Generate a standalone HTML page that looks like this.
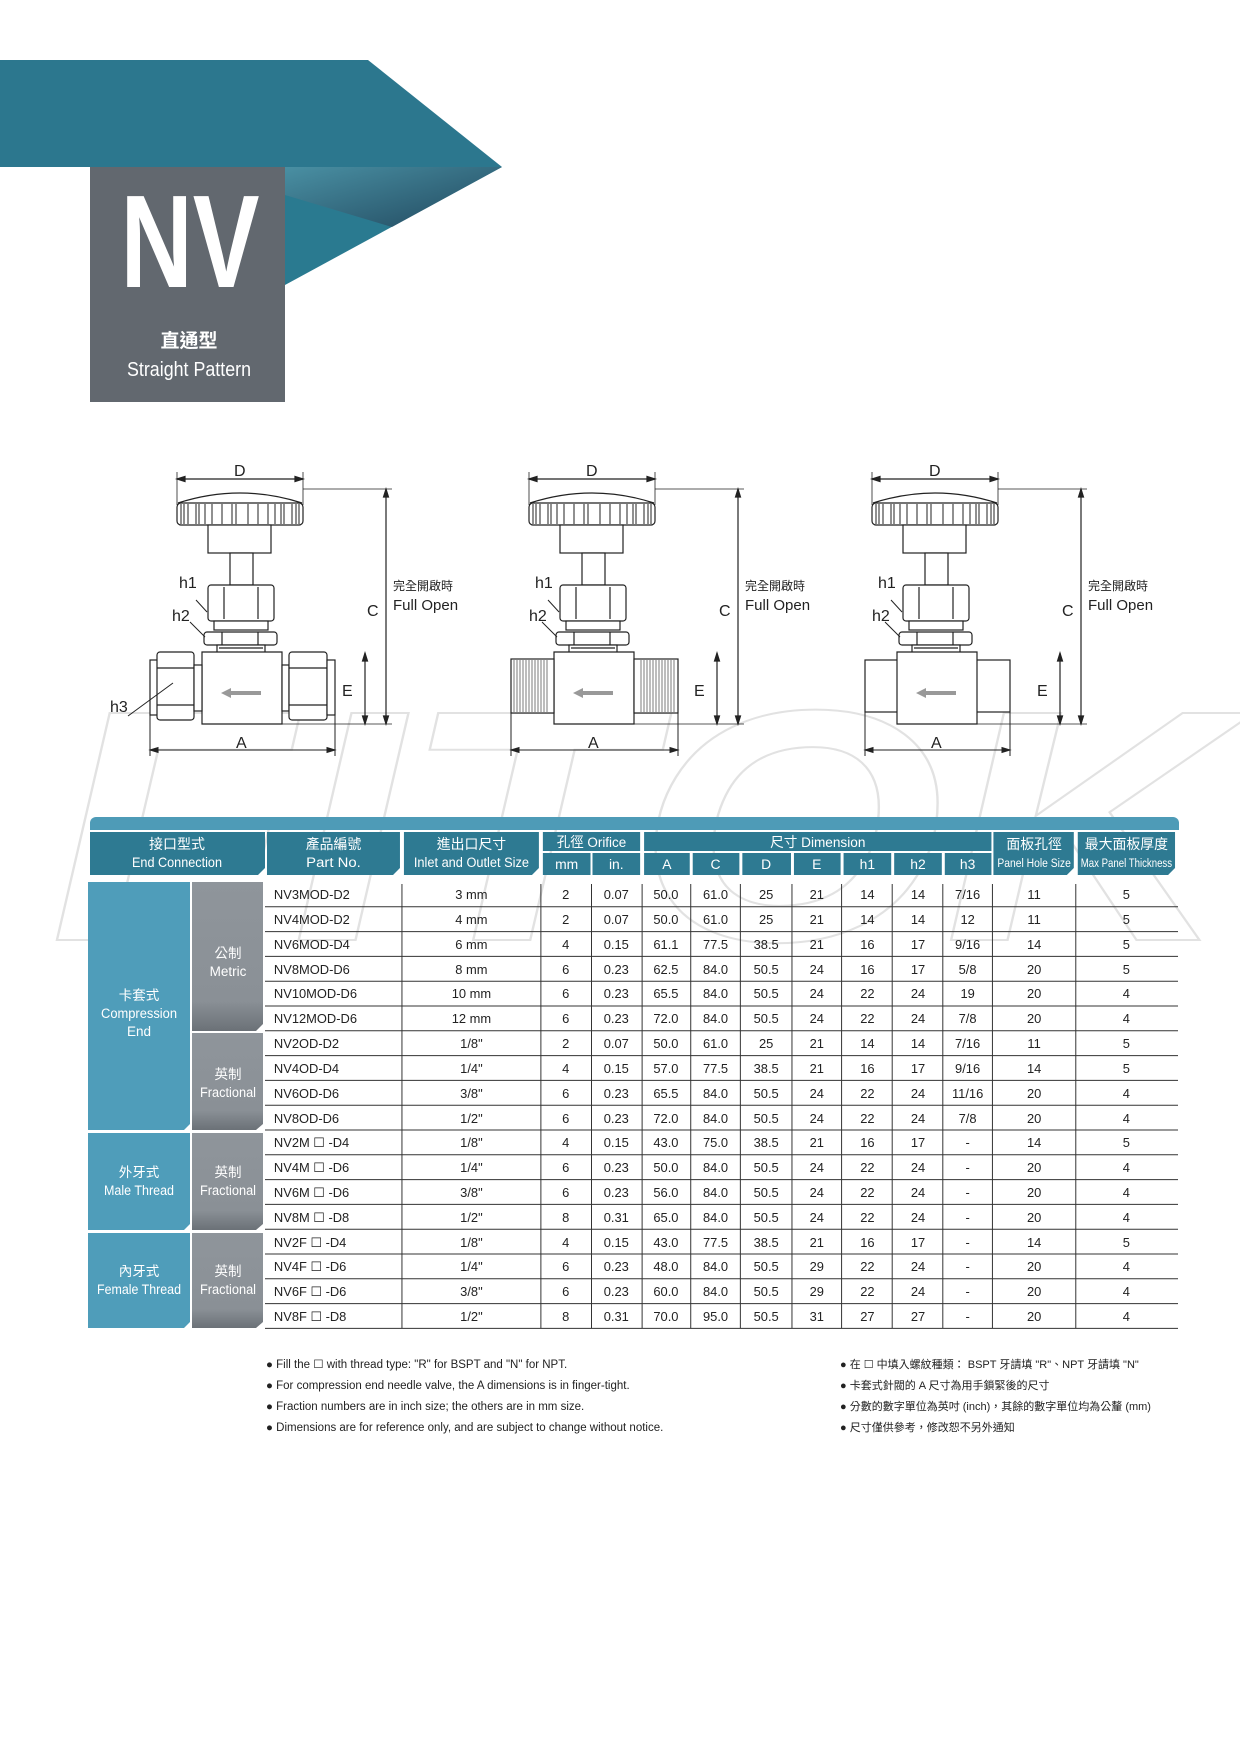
<!DOCTYPE html>
<html><head><meta charset="utf-8"><style>
html,body{margin:0;padding:0;background:#fff;}
svg{display:block;}
text{font-family:"Liberation Sans","Noto Sans CJK TC",sans-serif;}
</style></head><body>
<svg width="1240" height="1754" viewBox="0 0 1240 1754" xmlns="http://www.w3.org/2000/svg">
<defs>
<linearGradient id="fold" x1="0" y1="0" x2="1" y2="1">
<stop offset="0" stop-color="#4f93a6"/><stop offset="1" stop-color="#1f3f55"/></linearGradient>
<linearGradient id="gg" x1="0" y1="0" x2="0" y2="1">
<stop offset="0" stop-color="#8f959b"/><stop offset="0.8" stop-color="#8a9096"/><stop offset="1" stop-color="#6b7177"/></linearGradient>
<g id="valve" fill="none" stroke="#222" stroke-width="1.2">
<line x1="177" y1="479" x2="303" y2="479"/>
<line x1="177" y1="472" x2="177" y2="505" stroke-width="0.8"/>
<line x1="303" y1="472" x2="303" y2="505" stroke-width="0.8"/>
<path d="M177 479 l8 -2.5 v5z M303 479 l-8 -2.5 v5z" fill="#222"/>
<path d="M178 503 Q240 483 302 503" fill="#fff"/>
<rect x="177" y="503" width="126" height="22" rx="4" fill="#fff"/>
<g stroke-width="1">
<line x1="181" y1="504" x2="181" y2="524"/><line x1="184" y1="504" x2="184" y2="524"/>
<line x1="188" y1="504" x2="188" y2="524"/><line x1="196" y1="504" x2="196" y2="524"/>
<line x1="199" y1="504" x2="199" y2="524"/><line x1="205" y1="504" x2="205" y2="524"/>
<line x1="212" y1="504" x2="212" y2="524"/><line x1="222" y1="504" x2="222" y2="524"/>
<line x1="232" y1="504" x2="232" y2="524"/><line x1="236" y1="504" x2="236" y2="524"/>
<line x1="248" y1="504" x2="248" y2="524"/><line x1="258" y1="504" x2="258" y2="524"/>
<line x1="268" y1="504" x2="268" y2="524"/><line x1="275" y1="504" x2="275" y2="524"/>
<line x1="281" y1="504" x2="281" y2="524"/><line x1="284" y1="504" x2="284" y2="524"/>
<line x1="292" y1="504" x2="292" y2="524"/><line x1="296" y1="504" x2="296" y2="524"/>
<line x1="299" y1="504" x2="299" y2="524"/>
</g>
<rect x="208" y="525" width="63" height="28" fill="#fff"/>
<rect x="230" y="553" width="23" height="32" fill="#fff"/>
<rect x="208" y="585" width="66" height="36" rx="3" fill="#fff"/>
<line x1="224" y1="587" x2="224" y2="619"/><line x1="258" y1="587" x2="258" y2="619"/>
<rect x="214" y="621" width="54" height="9" fill="#fff"/>
<rect x="204" y="632" width="73" height="13" rx="3" fill="#fff"/>
<line x1="222" y1="632" x2="222" y2="645"/><line x1="258" y1="632" x2="258" y2="645"/>
<rect x="217" y="645" width="48" height="8" fill="#fff"/>
<line x1="219" y1="648" x2="263" y2="648"/>
<line x1="365" y1="653" x2="365" y2="724"/>
<path d="M365 653 l-2.5 8 h5z M365 724 l-2.5 -8 h5z" fill="#222"/>
<line x1="386" y1="489" x2="386" y2="724"/>
<path d="M386 489 l-2.5 8 h5z M386 724 l-2.5 -8 h5z" fill="#222"/>
<line x1="303" y1="489" x2="392" y2="489" stroke-width="0.8"/>
<line x1="282" y1="724" x2="392" y2="724" stroke-width="0.8"/>
</g>
<path id="arrow" d="M221 693 l10 -5 v3 h30 v4 h-30 v3z" fill="#999"/>
</defs>

<!-- watermark -->
<text x="50" y="940" font-size="330" font-style="italic" font-weight="bold" fill="none" stroke="#e2e2e2" stroke-width="2" textLength="1180" lengthAdjust="spacingAndGlyphs">FITOK</text>

<!-- banner -->
<polygon points="0,60 368,60 502,167 0,167" fill="#2c778e"/>
<polygon points="285,167 502,167 285,285" fill="#2a7a90"/>
<polygon points="285,167 502,167 392,227 285,195" fill="url(#fold)" opacity="0.85"/>
<rect x="90" y="167" width="195" height="235" fill="#62686f"/>
<text x="190" y="287" font-size="132" font-weight="bold" fill="#fff" text-anchor="middle" textLength="139" lengthAdjust="spacingAndGlyphs">NV</text>
<text x="189" y="347" font-size="19" fill="#fff" text-anchor="middle" font-weight="bold">直通型</text>
<text x="189" y="376" font-size="20" fill="#fff" text-anchor="middle" textLength="124" lengthAdjust="spacingAndGlyphs">Straight Pattern</text>

<!-- valve 1 compression -->
<g>
<use href="#valve"/>
<g fill="#fff" stroke="#222" stroke-width="1.2">
<path d="M202 652 h80 v72 h-80z"/>
<rect x="150" y="660" width="8" height="55"/>
<rect x="157" y="652" width="37" height="68" rx="3"/>
<line x1="157" y1="668" x2="194" y2="668"/><line x1="157" y1="705" x2="194" y2="705"/>
<rect x="194" y="665" width="8" height="46"/>
<rect x="282" y="665" width="7" height="46"/>
<rect x="289" y="652" width="38" height="68" rx="3"/>
<line x1="289" y1="668" x2="327" y2="668"/><line x1="289" y1="705" x2="327" y2="705"/>
<rect x="327" y="660" width="8" height="55"/>
</g>
<use href="#arrow"/>
<g stroke="#222" stroke-width="1" fill="none">
<line x1="150" y1="715" x2="150" y2="756"/><line x1="335" y1="715" x2="335" y2="756"/>
<line x1="150" y1="750" x2="335" y2="750"/>
<path d="M150 750 l8 -2.5 v5z M335 750 l-8 -2.5 v5z" fill="#222"/>
<path d="M196 600 l11 12"/><path d="M190 622 l15 15"/><path d="M128 716 l45 -33"/>
</g>
<g font-size="16" fill="#222">
<text x="234" y="476">D</text><text x="236" y="748">A</text><text x="342" y="696">E</text><text x="367" y="616">C</text>
<text x="179" y="588">h1</text><text x="172" y="621">h2</text><text x="110" y="712">h3</text></g>
<text x="393" y="590" font-size="12" fill="#222">完全開啟時</text>
<text x="393" y="610" font-size="15" fill="#222">Full Open</text>
</g>

<!-- valve 2 male -->
<g transform="translate(352,0)">
<use href="#valve"/>
<g fill="#fff" stroke="#222" stroke-width="1.2">
<path d="M202 652 h80 v72 h-80z"/>
<rect x="159" y="659" width="43" height="54"/>
<rect x="282" y="659" width="44" height="54"/>
</g>
<g stroke="#444" stroke-width="0.7">
<path d="M162 660 v52 M165 660 v52 M168 660 v52 M171 660 v52 M174 660 v52 M177 660 v52 M180 660 v52 M183 660 v52 M186 660 v52 M189 660 v52 M192 660 v52 M195 660 v52"/>
<path d="M289 660 v52 M292 660 v52 M295 660 v52 M298 660 v52 M301 660 v52 M304 660 v52 M307 660 v52 M310 660 v52 M313 660 v52 M316 660 v52 M319 660 v52 M322 660 v52"/>
</g>
<use href="#arrow"/>
<g stroke="#222" stroke-width="1" fill="none">
<line x1="159" y1="713" x2="159" y2="756"/><line x1="326" y1="713" x2="326" y2="756"/>
<line x1="159" y1="750" x2="326" y2="750"/>
<path d="M159 750 l8 -2.5 v5z M326 750 l-8 -2.5 v5z" fill="#222"/>
<path d="M196 600 l11 12"/><path d="M190 622 l15 15"/>
</g>
<g font-size="16" fill="#222">
<text x="234" y="476">D</text><text x="236" y="748">A</text><text x="342" y="696">E</text><text x="367" y="616">C</text>
<text x="183" y="588">h1</text><text x="177" y="621">h2</text></g>
<text x="393" y="590" font-size="12" fill="#222">完全開啟時</text>
<text x="393" y="610" font-size="15" fill="#222">Full Open</text>
</g>

<!-- valve 3 female -->
<g transform="translate(695,0)">
<use href="#valve"/>
<g fill="#fff" stroke="#222" stroke-width="1.2">
<rect x="170" y="660" width="145" height="52"/>
<path d="M202 652 h80 v72 h-80z"/>
</g>
<use href="#arrow"/>
<g stroke="#222" stroke-width="1" fill="none">
<line x1="170" y1="712" x2="170" y2="756"/><line x1="315" y1="712" x2="315" y2="756"/>
<line x1="170" y1="750" x2="315" y2="750"/>
<path d="M170 750 l8 -2.5 v5z M315 750 l-8 -2.5 v5z" fill="#222"/>
<path d="M196 600 l11 12"/><path d="M190 622 l15 15"/>
</g>
<g font-size="16" fill="#222">
<text x="234" y="476">D</text><text x="236" y="748">A</text><text x="342" y="696">E</text><text x="367" y="616">C</text>
<text x="183" y="588">h1</text><text x="177" y="621">h2</text></g>
<text x="393" y="590" font-size="12" fill="#222">完全開啟時</text>
<text x="393" y="610" font-size="15" fill="#222">Full Open</text>
</g>

<!-- TABLE -->
<path d="M90 823 a6 6 0 0 1 6 -6 h1077 a6 6 0 0 1 6 6 v7 h-1089z" fill="#4e9bb7"/>
<g fill="#2e7a92">
<path d="M90 832 h175 v36 l-7 7 h-168z"/>
</g>
<g transform="translate(265,0) scale(0.9924,1) translate(-265,0)">
<g fill="#2e7a92">
<path d="M267 832 h134 v36 l-7 7 h-127z"/>
<path d="M405 832 h136 v36 l-7 7 h-129z"/>
<rect x="545" y="832" width="98" height="19"/>
<rect x="545" y="853" width="48" height="22"/>
<rect x="595" y="853" width="48" height="22"/>
<rect x="647" y="832" width="350" height="19"/>
<rect x="647" y="853" width="46" height="22"/><rect x="696" y="853" width="47" height="22"/>
<rect x="746" y="853" width="49" height="22"/><rect x="798" y="853" width="47" height="22"/>
<rect x="848" y="853" width="48" height="22"/><rect x="899" y="853" width="48" height="22"/>
<rect x="950" y="853" width="47" height="22"/>
<path d="M999 832 h81 v36 l-7 7 h-74z"/>
<path d="M1084 832 h98 v36 l-7 7 h-91z"/>
</g>
<g fill="#fff" font-size="14" text-anchor="middle">
<text x="334" y="849">產品編號</text><text x="334" y="867" textLength="55" lengthAdjust="spacingAndGlyphs">Part No.</text>
<text x="473" y="849">進出口尺寸</text><text x="473" y="867" textLength="116" lengthAdjust="spacingAndGlyphs">Inlet and Outlet Size</text>
<text x="594" y="847" textLength="70" lengthAdjust="spacingAndGlyphs">孔徑 Orifice</text>
<text x="569" y="869">mm</text><text x="619" y="869">in.</text>
<text x="822" y="847" textLength="96" lengthAdjust="spacingAndGlyphs">尺寸 Dimension</text>
<text x="670" y="869">A</text><text x="719" y="869">C</text><text x="770" y="869">D</text><text x="821" y="869">E</text>
<text x="872" y="869">h1</text><text x="923" y="869">h2</text><text x="973" y="869">h3</text>
<text x="1040" y="849">面板孔徑</text><text x="1040" y="867" font-size="12" textLength="74" lengthAdjust="spacingAndGlyphs">Panel Hole Size</text>
<text x="1133" y="849">最大面板厚度</text><text x="1133" y="867" font-size="12" textLength="92" lengthAdjust="spacingAndGlyphs">Max Panel Thickness</text>
</g>

<g stroke="#333" stroke-width="1">
<line x1="265" y1="906.8" x2="1185" y2="906.8"/><line x1="265" y1="931.6" x2="1185" y2="931.6"/>
<line x1="265" y1="956.4" x2="1185" y2="956.4"/><line x1="265" y1="981.2" x2="1185" y2="981.2"/>
<line x1="265" y1="1006" x2="1185" y2="1006"/><line x1="265" y1="1030.8" x2="1185" y2="1030.8"/>
<line x1="265" y1="1055.6" x2="1185" y2="1055.6"/><line x1="265" y1="1080.4" x2="1185" y2="1080.4"/>
<line x1="265" y1="1105.2" x2="1185" y2="1105.2"/><line x1="265" y1="1130" x2="1185" y2="1130"/>
<line x1="265" y1="1154.8" x2="1185" y2="1154.8"/><line x1="265" y1="1179.6" x2="1185" y2="1179.6"/>
<line x1="265" y1="1204.4" x2="1185" y2="1204.4"/><line x1="265" y1="1229.2" x2="1185" y2="1229.2"/>
<line x1="265" y1="1254" x2="1185" y2="1254"/><line x1="265" y1="1278.8" x2="1185" y2="1278.8"/>
<line x1="265" y1="1303.6" x2="1185" y2="1303.6"/><line x1="265" y1="1328.4" x2="1185" y2="1328.4"/>
</g>
<g stroke="#333" stroke-width="1">
<line x1="403" y1="884" x2="403" y2="1328"/><line x1="543" y1="884" x2="543" y2="1328"/>
<line x1="594" y1="884" x2="594" y2="1328"/><line x1="645" y1="884" x2="645" y2="1328"/>
<line x1="694" y1="884" x2="694" y2="1328"/><line x1="744" y1="884" x2="744" y2="1328"/>
<line x1="796" y1="884" x2="796" y2="1328"/><line x1="846" y1="884" x2="846" y2="1328"/>
<line x1="897" y1="884" x2="897" y2="1328"/><line x1="948" y1="884" x2="948" y2="1328"/>
<line x1="998" y1="884" x2="998" y2="1328"/><line x1="1082" y1="884" x2="1082" y2="1328"/>
</g>

<g font-size="13" fill="#222">
<text x="274" y="899">NV3MOD-D2</text><text x="274" y="924">NV4MOD-D2</text><text x="274" y="949">NV6MOD-D4</text>
<text x="274" y="974">NV8MOD-D6</text><text x="274" y="998">NV10MOD-D6</text><text x="274" y="1023">NV12MOD-D6</text>
<text x="274" y="1048">NV2OD-D2</text><text x="274" y="1073">NV4OD-D4</text><text x="274" y="1098">NV6OD-D6</text>
<text x="274" y="1123">NV8OD-D6</text>
<text x="274" y="1147">NV2M ☐ -D4</text><text x="274" y="1172">NV4M ☐ -D6</text><text x="274" y="1197">NV6M ☐ -D6</text><text x="274" y="1222">NV8M ☐ -D8</text>
<text x="274" y="1247">NV2F ☐ -D4</text><text x="274" y="1271">NV4F ☐ -D6</text><text x="274" y="1296">NV6F ☐ -D6</text><text x="274" y="1321">NV8F ☐ -D8</text>
</g>
<g font-size="13" fill="#222" text-anchor="middle">
<text x="473" y="899">3 mm</text><text x="473" y="924">4 mm</text><text x="473" y="949">6 mm</text><text x="473" y="974">8 mm</text>
<text x="473" y="998">10 mm</text><text x="473" y="1023">12 mm</text><text x="473" y="1048">1/8"</text><text x="473" y="1073">1/4"</text>
<text x="473" y="1098">3/8"</text><text x="473" y="1123">1/2"</text><text x="473" y="1147">1/8"</text><text x="473" y="1172">1/4"</text>
<text x="473" y="1197">3/8"</text><text x="473" y="1222">1/2"</text><text x="473" y="1247">1/8"</text><text x="473" y="1271">1/4"</text>
<text x="473" y="1296">3/8"</text><text x="473" y="1321">1/2"</text>
<text x="568" y="899">2</text><text x="568" y="924">2</text><text x="568" y="949">4</text><text x="568" y="974">6</text>
<text x="568" y="998">6</text><text x="568" y="1023">6</text><text x="568" y="1048">2</text><text x="568" y="1073">4</text>
<text x="568" y="1098">6</text><text x="568" y="1123">6</text><text x="568" y="1147">4</text><text x="568" y="1172">6</text>
<text x="568" y="1197">6</text><text x="568" y="1222">8</text><text x="568" y="1247">4</text><text x="568" y="1271">6</text>
<text x="568" y="1296">6</text><text x="568" y="1321">8</text>
<text x="619" y="899">0.07</text><text x="619" y="924">0.07</text><text x="619" y="949">0.15</text><text x="619" y="974">0.23</text>
<text x="619" y="998">0.23</text><text x="619" y="1023">0.23</text><text x="619" y="1048">0.07</text><text x="619" y="1073">0.15</text>
<text x="619" y="1098">0.23</text><text x="619" y="1123">0.23</text><text x="619" y="1147">0.15</text><text x="619" y="1172">0.23</text>
<text x="619" y="1197">0.23</text><text x="619" y="1222">0.31</text><text x="619" y="1247">0.15</text><text x="619" y="1271">0.23</text>
<text x="619" y="1296">0.23</text><text x="619" y="1321">0.31</text>
<text x="669" y="899">50.0</text><text x="669" y="924">50.0</text><text x="669" y="949">61.1</text><text x="669" y="974">62.5</text>
<text x="669" y="998">65.5</text><text x="669" y="1023">72.0</text><text x="669" y="1048">50.0</text><text x="669" y="1073">57.0</text>
<text x="669" y="1098">65.5</text><text x="669" y="1123">72.0</text><text x="669" y="1147">43.0</text><text x="669" y="1172">50.0</text>
<text x="669" y="1197">56.0</text><text x="669" y="1222">65.0</text><text x="669" y="1247">43.0</text><text x="669" y="1271">48.0</text>
<text x="669" y="1296">60.0</text><text x="669" y="1321">70.0</text>
<text x="719" y="899">61.0</text><text x="719" y="924">61.0</text><text x="719" y="949">77.5</text><text x="719" y="974">84.0</text>
<text x="719" y="998">84.0</text><text x="719" y="1023">84.0</text><text x="719" y="1048">61.0</text><text x="719" y="1073">77.5</text>
<text x="719" y="1098">84.0</text><text x="719" y="1123">84.0</text><text x="719" y="1147">75.0</text><text x="719" y="1172">84.0</text>
<text x="719" y="1197">84.0</text><text x="719" y="1222">84.0</text><text x="719" y="1247">77.5</text><text x="719" y="1271">84.0</text>
<text x="719" y="1296">84.0</text><text x="719" y="1321">95.0</text>
<text x="770" y="899">25</text><text x="770" y="924">25</text><text x="770" y="949">38.5</text><text x="770" y="974">50.5</text>
<text x="770" y="998">50.5</text><text x="770" y="1023">50.5</text><text x="770" y="1048">25</text><text x="770" y="1073">38.5</text>
<text x="770" y="1098">50.5</text><text x="770" y="1123">50.5</text><text x="770" y="1147">38.5</text><text x="770" y="1172">50.5</text>
<text x="770" y="1197">50.5</text><text x="770" y="1222">50.5</text><text x="770" y="1247">38.5</text><text x="770" y="1271">50.5</text>
<text x="770" y="1296">50.5</text><text x="770" y="1321">50.5</text>
<text x="821" y="899">21</text><text x="821" y="924">21</text><text x="821" y="949">21</text><text x="821" y="974">24</text>
<text x="821" y="998">24</text><text x="821" y="1023">24</text><text x="821" y="1048">21</text><text x="821" y="1073">21</text>
<text x="821" y="1098">24</text><text x="821" y="1123">24</text><text x="821" y="1147">21</text><text x="821" y="1172">24</text>
<text x="821" y="1197">24</text><text x="821" y="1222">24</text><text x="821" y="1247">21</text><text x="821" y="1271">29</text>
<text x="821" y="1296">29</text><text x="821" y="1321">31</text>
<text x="872" y="899">14</text><text x="872" y="924">14</text><text x="872" y="949">16</text><text x="872" y="974">16</text>
<text x="872" y="998">22</text><text x="872" y="1023">22</text><text x="872" y="1048">14</text><text x="872" y="1073">16</text>
<text x="872" y="1098">22</text><text x="872" y="1123">22</text><text x="872" y="1147">16</text><text x="872" y="1172">22</text>
<text x="872" y="1197">22</text><text x="872" y="1222">22</text><text x="872" y="1247">16</text><text x="872" y="1271">22</text>
<text x="872" y="1296">22</text><text x="872" y="1321">27</text>
<text x="923" y="899">14</text><text x="923" y="924">14</text><text x="923" y="949">17</text><text x="923" y="974">17</text>
<text x="923" y="998">24</text><text x="923" y="1023">24</text><text x="923" y="1048">14</text><text x="923" y="1073">17</text>
<text x="923" y="1098">24</text><text x="923" y="1123">24</text><text x="923" y="1147">17</text><text x="923" y="1172">24</text>
<text x="923" y="1197">24</text><text x="923" y="1222">24</text><text x="923" y="1247">17</text><text x="923" y="1271">24</text>
<text x="923" y="1296">24</text><text x="923" y="1321">27</text>
<text x="973" y="899">7/16</text><text x="973" y="924">12</text><text x="973" y="949">9/16</text><text x="973" y="974">5/8</text>
<text x="973" y="998">19</text><text x="973" y="1023">7/8</text><text x="973" y="1048">7/16</text><text x="973" y="1073">9/16</text>
<text x="973" y="1098">11/16</text><text x="973" y="1123">7/8</text><text x="973" y="1147">-</text><text x="973" y="1172">-</text>
<text x="973" y="1197">-</text><text x="973" y="1222">-</text><text x="973" y="1247">-</text><text x="973" y="1271">-</text>
<text x="973" y="1296">-</text><text x="973" y="1321">-</text>
<text x="1040" y="899">11</text><text x="1040" y="924">11</text><text x="1040" y="949">14</text><text x="1040" y="974">20</text>
<text x="1040" y="998">20</text><text x="1040" y="1023">20</text><text x="1040" y="1048">11</text><text x="1040" y="1073">14</text>
<text x="1040" y="1098">20</text><text x="1040" y="1123">20</text><text x="1040" y="1147">14</text><text x="1040" y="1172">20</text>
<text x="1040" y="1197">20</text><text x="1040" y="1222">20</text><text x="1040" y="1247">14</text><text x="1040" y="1271">20</text>
<text x="1040" y="1296">20</text><text x="1040" y="1321">20</text>
<text x="1133" y="899">5</text><text x="1133" y="924">5</text><text x="1133" y="949">5</text><text x="1133" y="974">5</text>
<text x="1133" y="998">4</text><text x="1133" y="1023">4</text><text x="1133" y="1048">5</text><text x="1133" y="1073">5</text>
<text x="1133" y="1098">4</text><text x="1133" y="1123">4</text><text x="1133" y="1147">5</text><text x="1133" y="1172">4</text>
<text x="1133" y="1197">4</text><text x="1133" y="1222">4</text><text x="1133" y="1247">5</text><text x="1133" y="1271">4</text>
<text x="1133" y="1296">4</text><text x="1133" y="1321">4</text>
</g>
</g>

<g fill="#fff" font-size="14" text-anchor="middle">
<text x="177" y="849">接口型式</text><text x="177" y="867" textLength="90" lengthAdjust="spacingAndGlyphs">End Connection</text>
</g>

<g fill="#4f9dba">
<path d="M88 882 h102 v242 l-6 6 h-96z"/>
<path d="M88 1133 h102 v91 l-6 6 h-96z"/>
<path d="M88 1233 h102 v89 l-6 6 h-96z"/>
</g>
<g fill="url(#gg)">
<path d="M192 882 h71 v142 l-7 7 h-64z"/>
<path d="M192 1033 h71 v91 l-7 6 h-64z"/>
<path d="M192 1133 h71 v91 l-7 6 h-64z"/>
<path d="M192 1233 h71 v89 l-7 6 h-64z"/>
</g>
<g fill="#fff" font-size="13.5" text-anchor="middle">
<text x="139" y="1000">卡套式</text><text x="139" y="1018" textLength="76" lengthAdjust="spacingAndGlyphs">Compression</text><text x="139" y="1036">End</text>
<text x="228" y="958">公制</text><text x="228" y="976">Metric</text>
<text x="228" y="1079">英制</text><text x="228" y="1097" textLength="56" lengthAdjust="spacingAndGlyphs">Fractional</text>
<text x="139" y="1177">外牙式</text><text x="139" y="1195" textLength="70" lengthAdjust="spacingAndGlyphs">Male Thread</text>
<text x="228" y="1177">英制</text><text x="228" y="1195" textLength="56" lengthAdjust="spacingAndGlyphs">Fractional</text>
<text x="139" y="1276">內牙式</text><text x="139" y="1294" textLength="84" lengthAdjust="spacingAndGlyphs">Female Thread</text>
<text x="228" y="1276">英制</text><text x="228" y="1294" textLength="56" lengthAdjust="spacingAndGlyphs">Fractional</text>
</g>

<g font-size="11.5" fill="#222">
<text x="266" y="1368">● Fill the ☐ with thread type:  "R" for BSPT and "N" for NPT.</text>
<text x="266" y="1389">● For compression end needle valve, the A dimensions is in finger-tight.</text>
<text x="266" y="1410">● Fraction numbers are in inch size;  the others are in mm size.</text>
<text x="266" y="1431">● Dimensions are for reference only, and are subject to change without notice.</text>
<text x="840" y="1368" font-size="11">● 在 ☐ 中填入螺紋種類： BSPT 牙請填 "R"、NPT 牙請填 "N"</text>
<text x="840" y="1389" font-size="11">● 卡套式針閥的 A 尺寸為用手鎖緊後的尺寸</text>
<text x="840" y="1410" font-size="11">● 分數的數字單位為英吋 (inch)，其餘的數字單位均為公釐 (mm)</text>
<text x="840" y="1431" font-size="11">● 尺寸僅供參考，修改恕不另外通知</text>
</g>
</svg>
</body></html>
